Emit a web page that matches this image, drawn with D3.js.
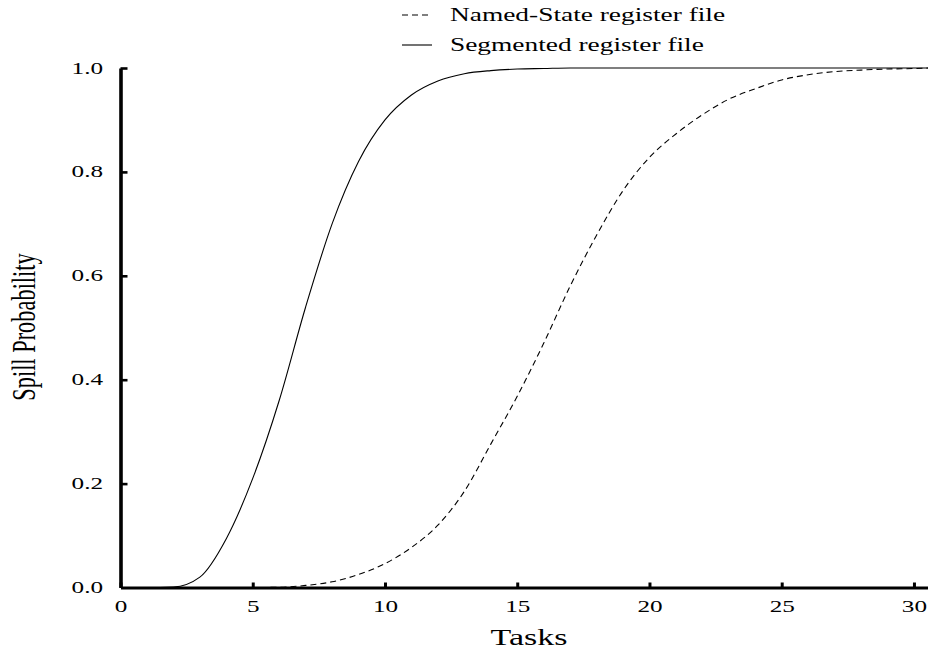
<!DOCTYPE html>
<html>
<head>
<meta charset="utf-8">
<script src="https://cdn.jsdelivr.net/npm/d3@7"></script>
<style>
  body { margin: 0; background: #fff; }
  text { font-family: "Liberation Serif", "Times New Roman", serif; fill: #000; }
</style>
</head>
<body>
<div class="spillChart"></div>
<script>
// values
var tasks = [0, 1, 2, 3, 4, 5, 6, 7, 8, 9, 10, 11, 12, 13, 14, 15, 16, 17, 18, 19, 20,
             21, 22, 23, 24, 25, 26, 27, 28, 29, 30, 30.55];
var segmented = [0, 0, 0.001, 0.02, 0.094, 0.21, 0.36, 0.54, 0.70, 0.82, 0.90, 0.948, 0.975, 0.989, 0.995, 0.998,
                 0.999, 1, 1, 1, 1, 1, 1, 1, 1, 1, 1, 1, 1, 1, 1, 1];
var namedState = [0, 0, 0, 0, 0, 0, 0.0005, 0.004, 0.011, 0.025, 0.046, 0.077, 0.12, 0.185, 0.276, 0.368,
                  0.47, 0.58, 0.678, 0.764, 0.828, 0.873, 0.91, 0.94, 0.96, 0.977, 0.987, 0.993, 0.996, 0.998, 0.999, 1];
var xTicks = [0, 5, 10, 15, 20, 25, 30];
var yTicks = [0, 0.2, 0.4, 0.6, 0.8, 1.0];
var seriesNames = ["Named-State register file", "Segmented register file"];

var width = 928, height = 651;
var sx = 1.48; // the original text is stretched sideways

var svg = d3.select(".spillChart")
  .append("svg")
    .attr("width", width)
    .attr("height", height);

var x = d3.scaleLinear()
  .domain([0, 30.55])
  .range([120.5, 928.5]);

var y = d3.scaleLinear()
  .domain([0, 1])
  .range([587.5, 68]);

// X axis, ticks pointing up
var xAxis = svg.append("g")
  .attr("transform", "translate(0," + y(0) + ")")
  .call(d3.axisBottom(x).tickValues(xTicks).tickSizeInner(-5).tickSizeOuter(0).tickFormat(d3.format("d")));
xAxis.select(".domain").attr("stroke-width", 3.2);
xAxis.selectAll(".tick line").attr("stroke-width", 3);
xAxis.selectAll(".tick text")
  .attr("y", 0)
  .attr("dy", 0)
  .attr("font-size", "17px")
  .attr("font-family", "Liberation Serif")
  .attr("transform", "translate(0,24) scale(" + sx + ",1)");

// Y axis, ticks pointing right
var yAxis = svg.append("g")
  .attr("transform", "translate(" + x(0) + ",0)")
  .call(d3.axisLeft(y).tickValues(yTicks).tickSizeInner(-7).tickSizeOuter(0).tickFormat(d3.format(".1f")));
yAxis.select(".domain").attr("stroke-width", 3.6);
yAxis.selectAll(".tick line").attr("stroke-width", 2.6);
yAxis.selectAll(".tick text")
  .attr("x", -17.5 / sx)
  .attr("dy", 0)
  .attr("y", 5)
  .attr("font-size", "17px")
  .attr("font-family", "Liberation Serif")
  .attr("text-anchor", "end")
  .attr("transform", "scale(" + sx + ",1)");
yAxis.selectAll(".tick").filter(function (d) { return d === 0; }).select("line").remove();

// curves
var line = d3.line()
  .curve(d3.curveMonotoneX)
  .x(function (d) { return x(d[0]); })
  .y(function (d) { return y(d[1]); });

svg.append("path")
  .datum(d3.zip(tasks, segmented))
  .attr("fill", "none")
  .attr("stroke", "#000")
  .attr("stroke-width", 1.1)
  .attr("d", line);

svg.append("path")
  .datum(d3.zip(tasks, namedState))
  .attr("fill", "none")
  .attr("stroke", "#000")
  .attr("stroke-width", 1.1)
  .attr("stroke-dasharray", "6,4")
  .attr("d", line);

// axis titles
svg.append("text")
  .attr("text-anchor", "middle")
  .attr("font-size", "23px")
  .attr("transform", "translate(529,645) scale(" + sx + ",1)")
  .text("Tasks");

svg.append("text")
  .attr("text-anchor", "middle")
  .attr("font-size", "22.4px")
  .attr("transform", "translate(35,327) scale(" + sx + ",1) rotate(-90)")
  .text("Spill Probability");

// legend
var legend = svg.append("g");
seriesNames.forEach(function (name, i) {
  var ly = 15 + i * 30;
  legend.append("line")
    .attr("x1", 402).attr("x2", 432)
    .attr("y1", ly).attr("y2", ly)
    .attr("stroke", "#000")
    .attr("stroke-width", 1.1)
    .attr("stroke-dasharray", i === 0 ? "6,4" : null);
  legend.append("text")
    .attr("font-size", "18.5px")
    .attr("transform", "translate(450," + (ly + 5.7) + ") scale(" + sx + ",1)")
    .text(name);
});
</script>
</body>
</html>
